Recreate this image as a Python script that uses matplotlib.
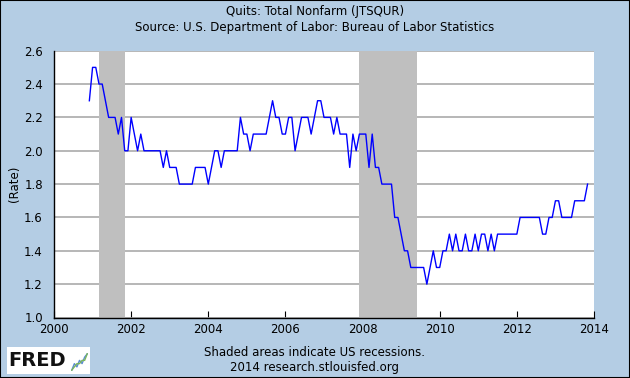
import numpy as np
import matplotlib
matplotlib.use("Agg")
import matplotlib.pyplot as plt
from matplotlib.patches import Rectangle

# Quits rate, monthly, Dec 2000 .. Nov 2013
start_year = 2000
start_month = 12
quits = [
    2.3,                                                        # 2000-12
    2.5, 2.5, 2.4, 2.4, 2.3, 2.2, 2.2, 2.2, 2.1, 2.2, 2.0, 2.0,  # 2001
    2.2, 2.1, 2.0, 2.1, 2.0, 2.0, 2.0, 2.0, 2.0, 2.0, 1.9, 2.0,  # 2002
    1.9, 1.9, 1.9, 1.8, 1.8, 1.8, 1.8, 1.8, 1.9, 1.9, 1.9, 1.9,  # 2003
    1.8, 1.9, 2.0, 2.0, 1.9, 2.0, 2.0, 2.0, 2.0, 2.0, 2.2, 2.1,  # 2004
    2.1, 2.0, 2.1, 2.1, 2.1, 2.1, 2.1, 2.2, 2.3, 2.2, 2.2, 2.1,  # 2005
    2.1, 2.2, 2.2, 2.0, 2.1, 2.2, 2.2, 2.2, 2.1, 2.2, 2.3, 2.3,  # 2006
    2.2, 2.2, 2.2, 2.1, 2.2, 2.1, 2.1, 2.1, 1.9, 2.1, 2.0, 2.1,  # 2007
    2.1, 2.1, 1.9, 2.1, 1.9, 1.9, 1.8, 1.8, 1.8, 1.8, 1.6, 1.6,  # 2008
    1.5, 1.4, 1.4, 1.3, 1.3, 1.3, 1.3, 1.3, 1.2, 1.3, 1.4, 1.3,  # 2009
    1.3, 1.4, 1.4, 1.5, 1.4, 1.5, 1.4, 1.4, 1.5, 1.4, 1.4, 1.5,  # 2010
    1.4, 1.5, 1.5, 1.4, 1.5, 1.4, 1.5, 1.5, 1.5, 1.5, 1.5, 1.5,  # 2011
    1.5, 1.6, 1.6, 1.6, 1.6, 1.6, 1.6, 1.6, 1.5, 1.5, 1.6, 1.6,  # 2012
    1.7, 1.7, 1.6, 1.6, 1.6, 1.6, 1.7, 1.7, 1.7, 1.7, 1.8,       # 2013
]

# recessions (start, end) as decimal years
recessions = [(2001 + 2/12, 2001 + 10/12), (2007 + 11/12, 2009 + 5/12)]

x_ticks = [2000, 2002, 2004, 2006, 2008, 2010, 2012, 2014]
y_ticks = [1.0, 1.2, 1.4, 1.6, 1.8, 2.0, 2.2, 2.4, 2.6]

bg = "#b4cde4"

months = np.arange(len(quits))
x = start_year + (start_month - 1 + months) / 12.0

fig = plt.figure(figsize=(6.3, 3.78), dpi=100, facecolor=bg)
fig.patches.append(Rectangle((0, 0), 1, 1, transform=fig.transFigure,
                             fill=False, edgecolor="black", linewidth=1.5))

ax = fig.add_axes([54/630, 1 - 317.5/378, 540/630, 266.8/378])
ax.set_facecolor("white")

for a, b in recessions:
    ax.axvspan(a, b, color="#bfbfbf", lw=0, zorder=1)

ax.set_yticks(y_ticks)
ax.yaxis.grid(True, color="#aaaaaa", linewidth=1.2, zorder=0)
ax.set_axisbelow(True)

ax.plot(x, quits, color="#0000ff", linewidth=1.0, zorder=3)

ax.set_xlim(2000, 2014)
ax.set_ylim(1.0, 2.6)
ax.set_xticks(x_ticks)
ax.set_xticklabels([str(t) for t in x_ticks])
ax.set_yticklabels(["%.1f" % t for t in y_ticks])
ax.tick_params(axis="both", direction="in", length=5, labelsize=8.5,
               colors="black")
ax.tick_params(axis="y", length=0, pad=8)
ax.tick_params(axis="x", pad=4)

for s in ["top", "right"]:
    ax.spines[s].set_visible(False)
for s in ["left", "bottom"]:
    ax.spines[s].set_color("black")
    ax.spines[s].set_linewidth(1.0)

ax.set_ylabel("(Rate)", fontsize=8.5)
ax.yaxis.set_label_coords(-0.062, 0.5)

fig.text(0.5, 1 - 12/378, "Quits: Total Nonfarm (JTSQUR)", ha="center",
         va="center", fontsize=8.5)
fig.text(0.5, 1 - 27/378,
         "Source: U.S. Department of Labor: Bureau of Labor Statistics",
         ha="center", va="center", fontsize=8.5)
fig.text(0.5, 1 - 352/378, "Shaded areas indicate US recessions.",
         ha="center", va="center", fontsize=8.5)
fig.text(0.5, 1 - 367/378, "2014 research.stlouisfed.org",
         ha="center", va="center", fontsize=8.5)

# FRED logo
fig.patches.append(Rectangle((7/630, 1 - 374/378), 83/630, 27/378,
                             transform=fig.transFigure, facecolor="white",
                             edgecolor="none", zorder=0))
fig.text(8/630, 1 - 361/378, "FRED", ha="left", va="center", fontsize=14,
         fontweight="bold", color="#111111")
logo = fig.add_axes([71/630, 1 - 371/378, 17/630, 18/378], zorder=5)
logo.set_facecolor("white")
logo_a = [0, 2, 1, 3, 2, 4, 5]
logo_b = [0, 1, 2, 2, 3, 3, 5]
logo.plot(logo_a, color="#5b8bd0", lw=1)
logo.plot(logo_b, color="#7ab55c", lw=1)
logo.set_xticks([])
logo.set_yticks([])
for s in logo.spines.values():
    s.set_visible(False)

fig.savefig("out.png", dpi=100, facecolor=bg)
